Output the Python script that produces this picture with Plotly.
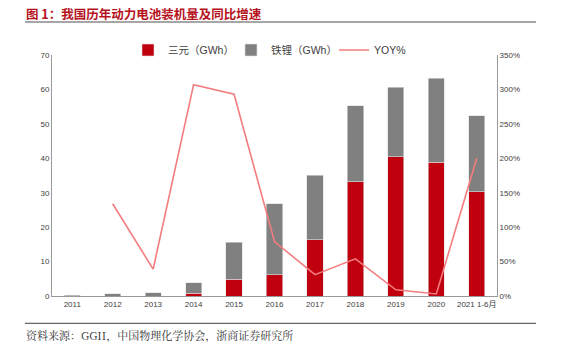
import plotly.graph_objects as go

categories = ["2011", "2012", "2013", "2014", "2015", "2016", "2017", "2018", "2019", "2020", "2021 1-6月"]
ternary = [0.0, 0.0, 0.0, 0.8, 4.8, 6.2, 16.3, 33.2, 40.5, 38.9, 30.3]
lfp = [0.15, 0.6, 0.9, 3.0, 10.8, 20.6, 18.8, 22.1, 20.1, 24.3, 22.0]
yoy = [None, 134, 39, 307, 293, 79, 31, 54, 9, 3, 200]

W, H = 569, 350
L, R, T, B = 52, 497, 55, 296.5

def px(x):
    return (x - L) / (R - L)

def py(y):
    return (B - y) / (B - T)

fig = go.Figure()
fig.add_trace(go.Bar(x=categories, y=ternary, name="三元（GWh）",
                     marker=dict(color="#C0000E", line=dict(color="#e0e0e0", width=0.6)),
                     width=0.4))
fig.add_trace(go.Bar(x=categories, y=lfp, name="铁锂（GWh）",
                     marker=dict(color="#808080", line=dict(color="#e0e0e0", width=0.6)),
                     width=0.4))
fig.add_trace(go.Scatter(x=categories, y=yoy, name="YOY%", yaxis="y2", mode="lines",
                         line=dict(color="#F47C7E", width=1.6)))

fig.update_layout(
    width=W, height=H,
    margin=dict(l=L, r=W - R, t=T, b=H - B),
    paper_bgcolor="white", plot_bgcolor="white",
    barmode="stack",
    font=dict(family="Arial, Liberation Sans, Noto Sans CJK SC", size=8, color="#404040"),
    xaxis=dict(showline=True, linecolor="#999999", linewidth=1, ticks="",
               tickfont=dict(size=8, color="#404040"), showgrid=False),
    yaxis=dict(range=[0, 70], dtick=10, showline=True, linecolor="#999999", linewidth=1,
               showgrid=False, zeroline=False, ticks="", tickfont=dict(size=8)),
    yaxis2=dict(range=[0, 350], dtick=50, overlaying="y", side="right", showline=True,
                linecolor="#999999", linewidth=1, showgrid=False, zeroline=False,
                ticksuffix="%", ticks="", tickfont=dict(size=8)),
    legend=dict(orientation="h", x=px(128), y=py(50), xanchor="left", yanchor="middle",
                traceorder="normal", entrywidth=58, entrywidthmode="pixels",
                font=dict(size=10.5, family="Arial, Noto Sans CJK SC", color="#404040"),
                itemwidth=30, tracegroupgap=0, bgcolor="rgba(0,0,0,0)"),
    showlegend=True,
)

fig.add_annotation(text="<b>图 1：我国历年动力电池装机量及同比增速</b>", xref="paper", yref="paper",
                   x=px(24), y=py(13), xanchor="left", yanchor="middle", showarrow=False,
                   font=dict(size=12.5, color="#B5121B", family="Noto Sans CJK SC"))
fig.add_annotation(text="资料来源：GGII，中国物理化学协会，浙商证券研究所", xref="paper", yref="paper",
                   x=px(24), y=py(336), xanchor="left", yanchor="middle", showarrow=False,
                   font=dict(size=11, color="#333333", family="Noto Serif CJK SC, Noto Sans CJK SC"))
fig.add_shape(type="line", xref="paper", yref="paper", x0=px(25), x1=px(536), y0=py(22), y1=py(22),
              line=dict(color="#a6a6a6", width=2))
fig.add_shape(type="line", xref="paper", yref="paper", x0=px(25), x1=px(536), y0=py(324), y1=py(324),
              line=dict(color="#666666", width=1.2))

fig.write_html("out.html")
